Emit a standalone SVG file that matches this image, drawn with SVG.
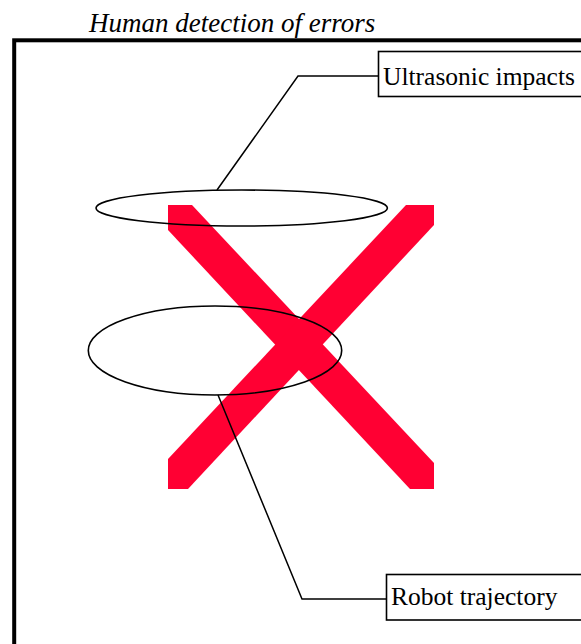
<svg xmlns="http://www.w3.org/2000/svg" width="581" height="644" viewBox="0 0 581 644">
<style>
.lbl{font-family:"Liberation Serif","Times New Roman",serif;font-size:25.5px;fill:#000}
.title{font-family:"Liberation Serif","Times New Roman",serif;font-size:27px;font-style:italic;fill:#000}
.box{fill:#fff;stroke:#000;stroke-width:1.6}
.lead{fill:none;stroke:#000;stroke-width:1.5}
.ell{fill:none;stroke:#000;stroke-width:1.6}
.x{fill:#ff0033}
</style>
<rect width="581" height="644" fill="#fff"/>
<text class="title" x="89" y="32">Human detection of errors</text>
<rect id="frame" x="14.2" y="40.3" width="700" height="700" fill="none" stroke="#000" stroke-width="4"/>
<g id="cross">
<polygon class="x" points="168,205 192,205 434,463 434,489 410,489 168,230"/>
<polygon class="x" points="406,205 434,205 434,225 188,489 168,489 168,459"/>
</g>
<g id="connectors">
<polyline class="lead" points="378,76 298,76 217,190"/>
<polyline class="lead" points="218,395 302,599 387,599"/>
</g>
<g id="ellipse-top"><ellipse class="ell" cx="241.7" cy="208" rx="145.7" ry="18"/></g>
<g id="ellipse-bottom"><ellipse class="ell" cx="215" cy="350.5" rx="126.7" ry="44.5"/></g>
<g id="ultrasonic">
<rect class="box" x="378.5" y="51.5" width="260" height="45"/>
<text class="lbl" x="383" y="85">Ultrasonic impacts</text>
</g>
<g id="robot">
<rect class="box" x="386.5" y="574.5" width="260" height="45.5"/>
<text class="lbl" x="391" y="605">Robot trajectory</text>
</g>
</svg>
